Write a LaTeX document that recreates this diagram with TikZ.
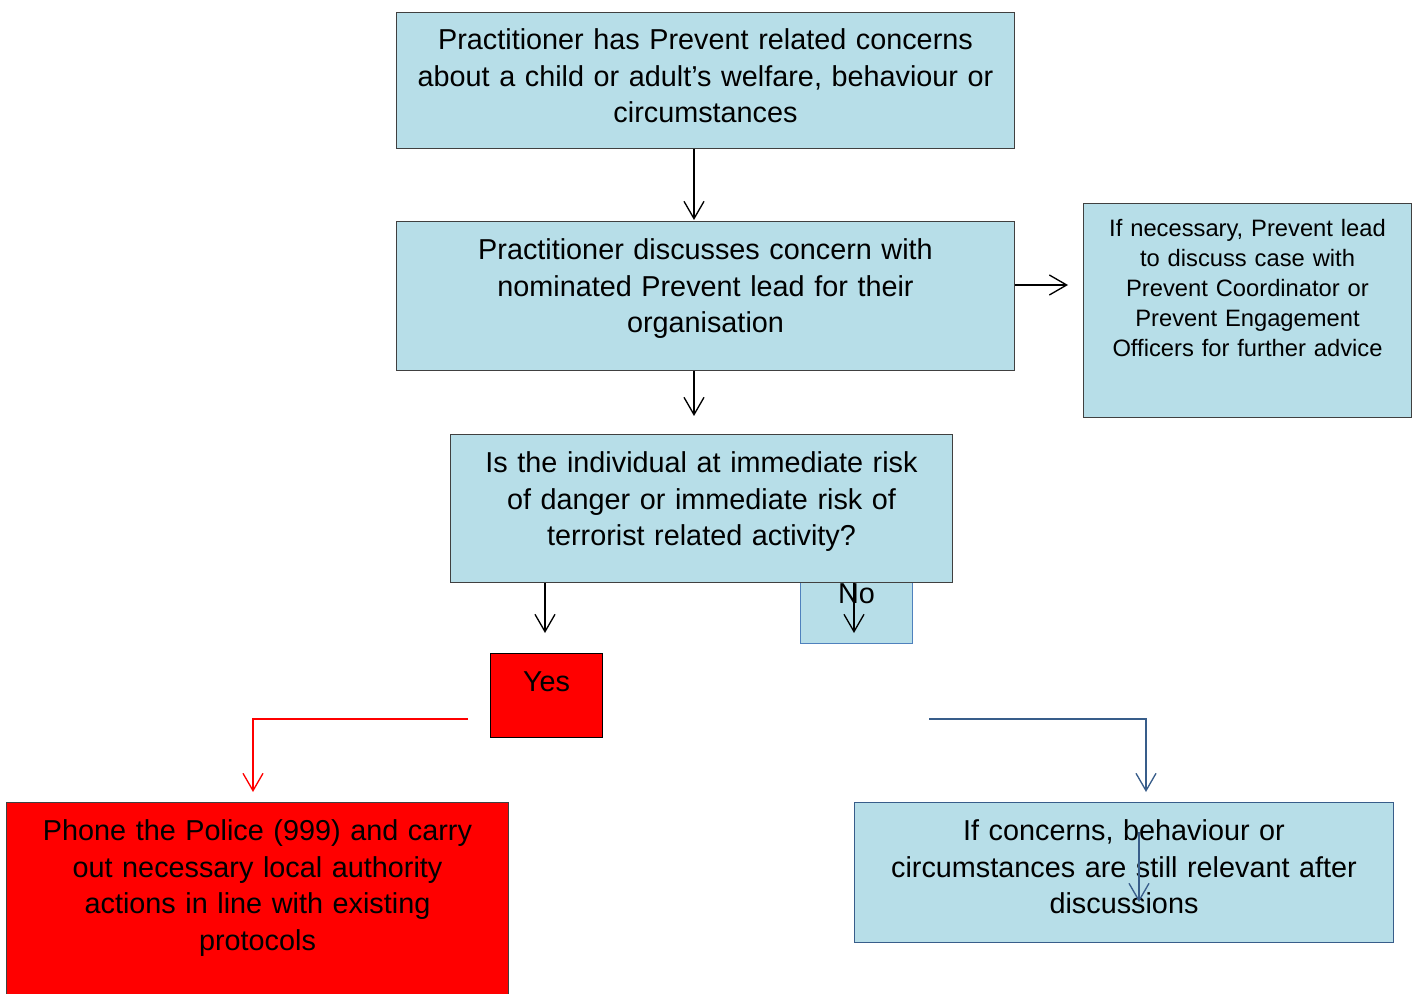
\documentclass[tikz,border=0pt]{standalone}
\usepackage{fontspec}
\setmainfont{Liberation Sans}
\usetikzlibrary{arrows.meta}
\definecolor{paleblue}{HTML}{B7DEE8}
\definecolor{darkblue}{HTML}{385D8A}
\definecolor{midblue}{HTML}{4F81BD}

\begin{document}
\begin{tikzpicture}[
    x=0.75pt, y=-0.75pt,
    font=\fontsize{21.6}{27.4}\selectfont,
    box/.style={
      rectangle,
      draw=black!75,
      fill=paleblue,
      line width=0.75pt,
      inner sep=0pt,
      anchor=north west,
      align=center
      },
    alarm/.style={box, fill=red},
    small/.style={font=\fontsize{17.8}{22.5}\selectfont},
    arr/.style={-{Straight Barb[length=13pt,width=15pt]}, line width=1pt, miter limit=4}
    ]
\useasboundingbox (0,0) rectangle (1414,994);

\node[box, text width=463.5pt, text height=27.75pt, text depth=74.25pt] (top) at (396,12)
  {Practitioner has Prevent related concerns\\about a child or adult’s welfare, behaviour or\\circumstances};
\node[box, text width=463.5pt, text height=28.5pt, text depth=83.25pt] (mid) at (396,221)
  {Practitioner discusses concern with\\nominated Prevent lead for their\\organisation};
\node[box, small, text width=246pt, text height=24.75pt, text depth=135.75pt] (lead) at (1083,203)
  {If necessary, Prevent lead\\to discuss case with\\Prevent Coordinator or\\Prevent Engagement\\Officers for further advice};
\node[box, draw=midblue, text width=84pt, text height=15.75pt, text depth=30pt] (no) at (800,582) {No};
\node[box, text width=376.5pt, text height=28.5pt, text depth=82.5pt] (risk) at (450,434)
  {Is the individual at immediate risk\\of danger or immediate risk of\\terrorist related activity?};
\node[alarm, draw=black, text width=84pt, text height=28.5pt, text depth=34.5pt] (yes) at (490,653) {Yes};
\node[alarm, text width=376.5pt, text height=28.5pt, text depth=120pt] (police) at (6,802)
  {Phone the Police (999) and carry\\out necessary local authority\\actions in line with existing\\protocols};
\node[box, draw=darkblue, text width=404.25pt, text height=28.5pt, text depth=76.5pt] (after) at (854,802)
  {If concerns, behaviour or\\circumstances are still relevant after\\discussions};

\coordinate (a1) at (694,220);
\coordinate (a2) at (694,416);
\coordinate (a3) at (1068,285);
\coordinate (a4) at (545,633);
\coordinate (a5) at (854,633);
\coordinate (r0) at (468,719);
\coordinate (r1) at (253,792);
\coordinate (b0) at (929,719);
\coordinate (b1) at (1146,792);
\coordinate (c0) at (1139,832);
\coordinate (c1) at (1139,902);

\draw[arr] (top.south -| a1) -- (a1);
\draw[arr] (mid.south -| a2) -- (a2);
\draw[arr] (mid.east |- a3) -- (a3);
\draw[arr] (risk.south -| a4) -- (a4);
\draw[arr] (risk.south -| a5) -- (a5);
\draw[arr, red] (r0) -| (r1);
\draw[arr, darkblue] (b0) -| (b1);
\draw[arr, darkblue] (c0) -- (c1);
\end{tikzpicture}
\end{document}
